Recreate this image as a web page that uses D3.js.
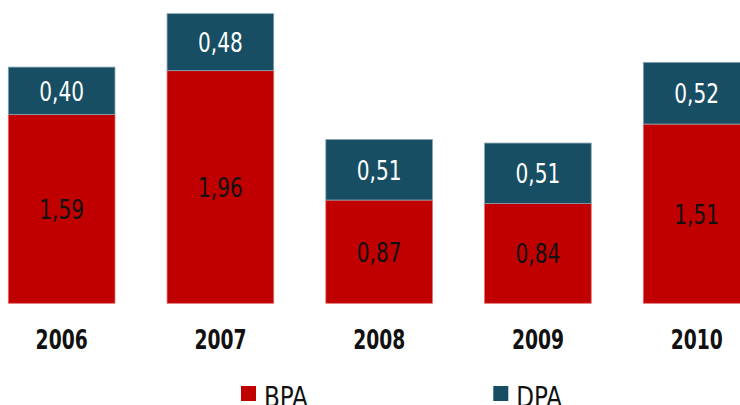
<!DOCTYPE html>
<html>
<head>
<meta charset="utf-8">
<script src="https://d3js.org/d3.v7.min.js"></script>
<style>
  body { margin: 0; background: #fff; }
  svg { display: block; }
  text { font-family: "Liberation Sans Narrow", "Arial Narrow", "DejaVu Sans Condensed", sans-serif; }
</style>
</head>
<body>
<div id="chart"></div>
<script>
var years = ["2006", "2007", "2008", "2009", "2010"]
var bpa = [1.59, 1.96, 0.87, 0.84, 1.51]
var dpa = [0.40, 0.48, 0.51, 0.51, 0.52]
var series = ["BPA", "DPA"]
var colors = ["#C00000", "#174E63"]

var width = 740, height = 405
var sxReg = 0.86, sxBold = 0.8   // squeeze the fallback font toward the narrow original

var svg = d3.select("#chart").append("svg")
	.attr("width", width)
	.attr("height", height)

var x = d3.scaleBand().domain(years).range([8.3, 750]).paddingInner(0.328).paddingOuter(0)
var y = d3.scaleLinear().domain([0, 2.5]).range([303.3, 303.3 - 2.5 * 118.7])

var fmt = function(v){ return d3.format(".2f")(v).replace(".", ",") }

var data = years.map(function(yr, i){
	return {year: yr, segs: [
		{s: 0, y0: 0, y1: bpa[i], v: bpa[i]},
		{s: 1, y0: bpa[i], y1: bpa[i] + dpa[i], v: dpa[i]}
	]}
})

var g = svg.selectAll(".bar").data(data).enter().append("g")
	.attr("class", "bar")
	.attr("transform", function(d){ return "translate(" + x(d.year) + ",0)" })

var seg = g.selectAll(".seg").data(function(d){ return d.segs }).enter().append("g").attr("class", "seg")

seg.append("rect")
	.attr("x", 0)
	.attr("width", x.bandwidth())
	.attr("y", function(d){ return y(d.y1) })
	.attr("height", function(d){ return y(d.y0) - y(d.y1) })
	.style("fill", function(d){ return colors[d.s] })
	.style("stroke", function(d){ return d.s == 0 ? "#e07070" : "#8aa6b2" })
	.style("stroke-width", 0.8)

seg.append("text")
	.text(function(d){ return fmt(d.v) })
	.attr("transform", function(d){
		return "translate(" + (x.bandwidth() / 2) + "," + ((y(d.y0) + y(d.y1)) / 2 + 10) + ") scale(" + sxReg + ",1)"
	})
	.style("text-anchor", "middle")
	.style("font-size", "26px")
	.style("fill", function(d){ return d.s == 0 ? "#111" : "#fff" })

// year labels
svg.selectAll(".year").data(years).enter().append("text")
	.attr("class", "year")
	.text(function(d){ return d })
	.attr("transform", function(d){
		return "translate(" + (x(d) + x.bandwidth() / 2) + ",349) scale(" + sxBold + ",1)"
	})
	.style("text-anchor", "middle")
	.style("font-size", "26px")
	.style("font-weight", "bold")
	.style("fill", "#111")

// legend (text runs off the bottom edge, as in the original)
var legX = [241, 493.3]
var leg = svg.selectAll(".legend").data(series).enter().append("g")
	.attr("class", "legend")
	.attr("transform", function(d, i){ return "translate(" + legX[i] + ",386)" })

leg.append("rect").attr("width", 15).attr("height", 15)
	.style("fill", function(d, i){ return colors[i] })

leg.append("text").text(function(d){ return d })
	.attr("transform", "translate(23,20.5) scale(0.9,1)")
	.style("font-size", "28.5px")
	.style("fill", "#111")
</script>
</body>
</html>
